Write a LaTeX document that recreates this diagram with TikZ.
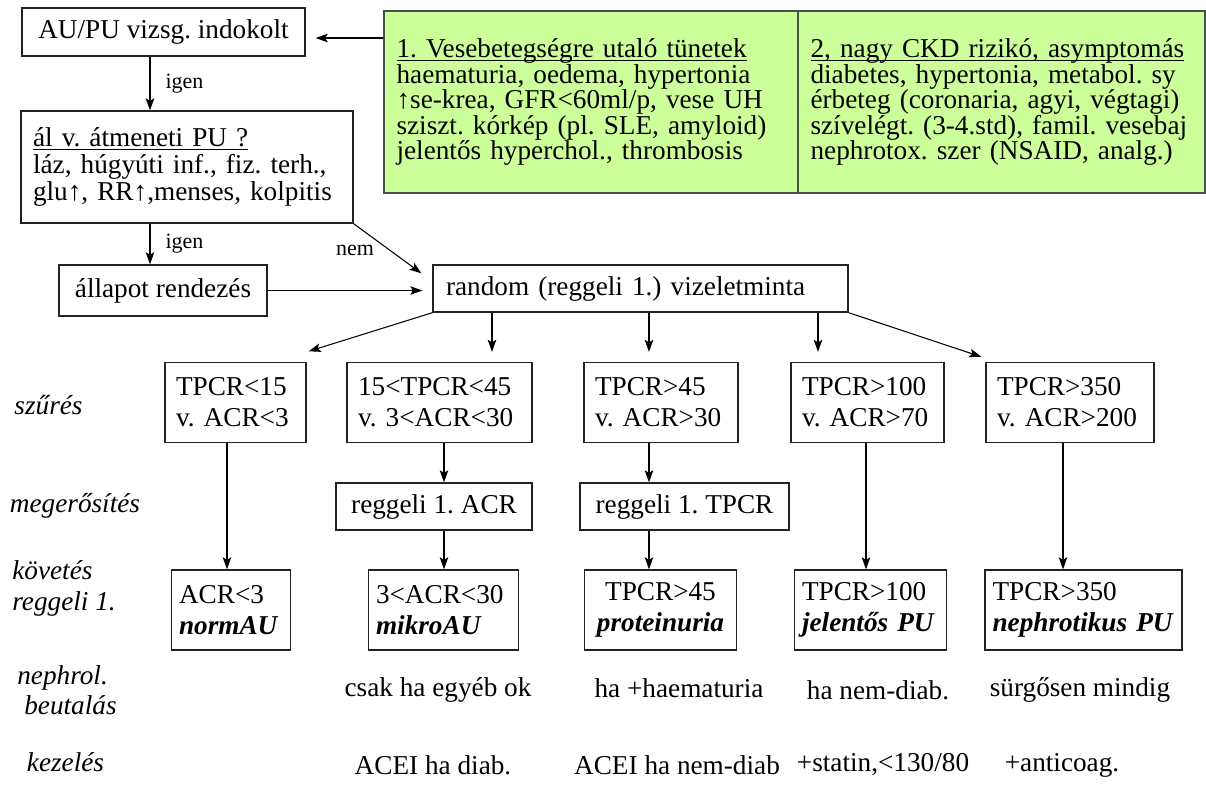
\documentclass[tikz,border=0pt]{standalone}
\usepackage{fontspec}
\setmainfont{Liberation Serif}
\usetikzlibrary{arrows.meta,positioning,calc}
\definecolor{VzGreen}{RGB}{204,255,153}
\definecolor{VzEdge}{RGB}{35,35,35}
\definecolor{VzFrame}{RGB}{70,80,70}
\newcommand{\vzfont}[2][15.5]{\fontsize{#1}{#2}\selectfont\frenchspacing}
\newcommand{\vzul}[1]{\underline{\raisebox{0pt}[\height][0pt]{#1}}}
\tikzset{
  vz/box/.style={
    draw=VzEdge,
    line width=0.8pt,
    fill=white,
    inner ysep=0pt,
    font=\vzfont{17.6pt}
  },
  vz/lbox/.style={vz/box, align=left, inner xsep=0.22cm},
  vz/cbox/.style={vz/box, align=center, inner xsep=0pt},
  vz/green/.style={
    draw=VzFrame,
    line width=0.9pt,
    fill=VzGreen,
    align=left,
    inner xsep=0.25cm,
    inner ysep=0pt,
    minimum height=3.64cm,
    font=\vzfont{14.5pt}
  },
  vz/arrow/.style={-{Stealth[length=0.24cm,width=0.17cm,inset=0.05cm]}, line width=0.6pt, draw=black},
  vz/gap/.style={vz/arrow, shorten >=0.2cm},
  vz/rowlabel/.style={font=\vzfont{17.6pt}\itshape, align=left, inner sep=0pt},
  vz/plain/.style={font=\vzfont{17.6pt}, inner sep=0pt},
  vz/small/.style={font=\vzfont[12.5]{14pt}, inner sep=0pt}
}
\begin{document}
\begin{tikzpicture}[x=0.02cm,y=-0.02cm]
  \fill[white] (0,0) rectangle (1206,791);

  % felso resz
  \node[vz/cbox, minimum width=5.66cm, minimum height=0.96cm] (au) at (163.5,32) {AU/PU vizsg. indokolt};
  \node[vz/green, text width=7.78cm] (tunet) at (591,102)
    {\vzul{1. Vesebetegségre utaló tünetek}\\
     haematuria, oedema, hypertonia\\
     ↑se-krea, GFR<60ml/p, vese UH\\
     sziszt. kórkép (pl. SLE, amyloid)\\
     jelentős hyperchol., thrombosis};
  \node[vz/green, text width=7.64cm] (rizik) at (1001.5,102)
    {\vzul{2, nagy CKD rizikó, asymptomás}\\
     diabetes, hypertonia, metabol. sy\\
     érbeteg (coronaria, agyi, végtagi)\\
     szívelégt. (3-4.std), famil. vesebaj\\
     nephrotox. szer (NSAID, analg.)};
  \node[vz/lbox, inner xsep=0.24cm, text width=6.16cm, minimum height=2.24cm, font=\vzfont{15.3pt}] (al) at (187,167)
    {\vzul{ál v. átmeneti PU ?}\\
     láz, húgyúti inf., fiz. terh.,\\
     glu↑, RR↑,menses, kolpitis};
  \node[vz/cbox, minimum width=4.16cm, minimum height=1.02cm] (allapot) at (163,290.5) {állapot rendezés};
  \node[vz/lbox, inner xsep=0.26cm, text width=7.78cm, minimum height=0.94cm] (random) at (640.5,288.5) {random (reggeli 1.) vizeletminta};

  % szures
  \foreach \nm/\txt/\x/\w in {b1/{TPCR<15\\v. ACR<3}/235.5/2.38,
    b2/{15<TPCR<45\\v. 3<ACR<30}/439.5/3.26, b3/{TPCR>45\\v. ACR>30}/661/2.64,
    b4/{TPCR>100\\v. ACR>70}/867.5/2.62, b5/{TPCR>350\\v. ACR>200}/1070/2.92}
  {\node[vz/lbox, text width=\w cm, minimum height=1.6cm] (\nm) at (\x,402.5) {\txt};}

  % megerosites
  \node[vz/cbox, minimum width=3.92cm, minimum height=0.94cm] (c2) at (434,506.5) {reggeli 1. ACR};
  \node[vz/cbox, minimum width=4.18cm, minimum height=0.94cm] (c3) at (684.5,506.5) {reggeli 1. TPCR};

  % kovetes
  \foreach \nm/\val/\diag/\x/\w/\al in {d1/ACR<3/normAU/231/2.08/left,
    d2/3<ACR<30/mikroAU/443.5/2.70/left, d3/TPCR>45/proteinuria/660.5/2.74/center,
    d4/TPCR>100/jelentős PU/870.5/2.74/left, d5/TPCR>350/nephrotikus PU/1083.5/3.64/left}
  {\node[vz/lbox, inner xsep=0.15cm, align=\al, text width=\w cm, minimum height=1.6cm] (\nm) at (\x,610)
    {\val\\\textbf{\textit{\diag}}};}

  % sorok cimkei
  \node[vz/rowlabel] (szures) at (48.5,405) {szűrés};
  \node[vz/rowlabel] (meger) at (75,506) {megerősítés};
  \node[vz/rowlabel, anchor=west] (kovet) at (12,588) {követés\\reggeli 1.};
  \node[vz/rowlabel, anchor=west, font=\vzfont{16.8pt}\itshape] (nephrol) at (17,690) {nephrol.\\\hspace*{0.14cm}beutalás};
  \node[vz/rowlabel] (kezel) at (65.5,762) {kezelés};

  % beutalas, kezeles
  \node[vz/plain] (beut2) at (438,690) {csak ha egyéb ok};
  \node[vz/plain] (beut3) at (679,688) {ha +haematuria};
  \node[vz/plain] (beut4) at (878,690) {ha nem-diab.};
  \node[vz/plain] (beut5) at (1080,690) {sürgősen mindig};
  \node[vz/plain] (kez2) at (433,765) {ACEI ha diab.};
  \node[vz/plain] (kez3) at (677,765) {ACEI ha nem-diab};
  \node[vz/plain] (kez4) at (883,765) {+statin,<130/80};
  \node[vz/plain] (kez5) at (1062,765) {+anticoag.};

  % nyilak
  \draw[vz/gap] (tunet.west |- 0,38) -- (au.east |- 0,38);
  \draw[vz/arrow] (au.south -| 150,0) -- node[vz/small, right=0.3cm] (igen1) {igen} (al.north -| 150,0);
  \draw[vz/arrow] (al.south -| 150,0) -- node[vz/small, right=0.3cm] (igen2) {igen} (allapot.north -| 150,0);
  \draw[vz/arrow] (al.south east) -- ([xshift=-0.22cm,yshift=-0.18cm]random.north west);
  \node[vz/small] (nem) at (355,250) {nem};
  \draw[vz/gap] (allapot.east) -- (allapot.east -| random.west);
  \draw[vz/arrow] (random.south west) -- ([xshift=0.04cm,yshift=0.21cm]b1.north east);
  \foreach \b/\x in {b2/492, b3/649, b4/818}
    \draw[vz/gap] (random.south -| \x,0) -- (\b.north -| \x,0);
  \draw[vz/arrow] (random.south east) -- ([xshift=-0.08cm,yshift=0.1cm]b5.north west);
  \foreach \a/\b/\x in {b1/d1/227, b2/c2/444, c2/d2/444, b3/c3/649, c3/d3/649, b4/d4/866, b5/d5/1063}
    \draw[vz/arrow] (\a.south -| \x,0) -- (\b.north -| \x,0);
\end{tikzpicture}
\end{document}
